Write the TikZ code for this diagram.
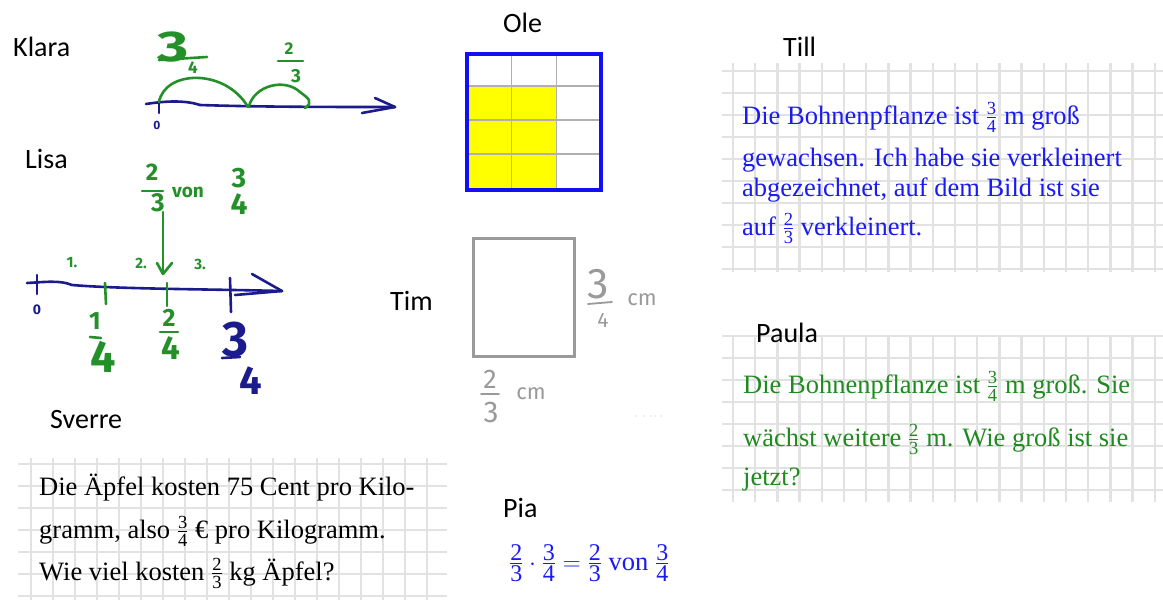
\documentclass[tikz,border=0pt]{standalone}
\usepackage{amsmath}
\usepackage{fontspec}
\setmainfont{Liberation Serif}
\newfontfamily\namefont{Carlito}
\newfontfamily\handfont{Fira Sans}
\usetikzlibrary{calc}
\definecolor{penblue}{HTML}{1B1B8E}
\definecolor{pengreen}{HTML}{24902A}
\definecolor{textblue}{HTML}{1A1AF2}
\definecolor{textgreen}{HTML}{1F8A1F}
\definecolor{gridgray}{HTML}{E2E2E2}
\definecolor{olegray}{HTML}{B0B0B0}
\definecolor{olefill}{HTML}{FFFF00}
\definecolor{olerim}{HTML}{1010F0}
\definecolor{timgray}{HTML}{9A9A9A}
\newcommand{\penfs}[1]{\fontsize{#1}{#1}\selectfont}
\newcommand{\tfr}[3][18.5]{\ensuremath{\frac{\hbox{\penfs{#1}#2}}{\hbox{\penfs{#1}#3}}}}
\tikzset{
    every node/.style={inner sep=0pt},
    kidname/.style={font=\namefont\penfs{28},anchor=base west},
    prose/.style={font=\fontsize{26.5}{30}\selectfont,anchor=base west},
    gridline/.style={draw=gridgray,line width=2.4pt},
    pen/.style={line width=2.6pt,line cap=round,line join=round},
    bluepen/.style={pen,draw=penblue},
    greenpen/.style={pen,draw=pengreen},
    graypen/.style={pen,draw=timgray,line width=1.8pt},
    greendigit/.style={text=pengreen,font=\handfont\bfseries\penfs{#1}},
    bluedigit/.style={text=penblue,font=\handfont\bfseries\penfs{#1}},
    graydigit/.style={text=timgray,font=\handfont\penfs{#1}},
    greendigit/.default=20, bluedigit/.default=20, graydigit/.default=20
}
\begin{document}
\begin{tikzpicture}[x=1pt,y=-1pt]
\fill[white] (0,0) rectangle (1163,600);
\useasboundingbox (0,0) rectangle (1163,600);
% squared paper behind the three texts
\foreach \k in {0,...,19} \draw[gridline] ({733+22.2*\k},63) -- ({733+22.2*\k},272);
\foreach \k in {0,...,9} \draw[gridline] (722,{71+22*\k}) -- (1163,{71+22*\k});
\foreach \k in {0,...,19} \draw[gridline] ({733+22.2*\k},335) -- ({733+22.2*\k},502);
\foreach \k in {0,...,7} \draw[gridline] (722,{336+22*\k}) -- (1163,{336+22*\k});
\foreach \k in {0,...,18} \draw[gridline] ({31+22*\k},458) -- ({31+22*\k},600);
\foreach \k in {0,...,6} \draw[gridline] (18,{464+22*\k}) -- (447,{464+22*\k});
% Klara
\node[kidname] (klara) at (13,56) {Klara};
\draw[bluepen] (146,104) .. controls (165,101) and (185,100) .. (200,105) .. controls (260,107) and (330,107) .. (395,107);
\draw[bluepen] (375,98) -- (395,107) -- (362,113);
\draw[bluepen] (159,100) -- (159,113);
\node[bluedigit=12] (klarazero) at (157,125) {0};
\draw[greenpen] (159,102) .. controls (165,70) and (225,68) .. (248,107);
\draw[greenpen] (249,106) .. controls (255,85) and (285,78) .. (300,92) .. controls (308,98) and (314,102) .. (305,108);
\node[greendigit=43,xscale=1.4,transform shape] (knum) at (173,47) {3};
\draw[greenpen] (159,60) -- (207,57);
\node[greendigit=17] (kden) at (193,68) {4};
\node[greendigit=17] (jnum) at (289,49) {2};
\draw[greenpen] (278,61) -- (303,61);
\node[greendigit=19] (jden) at (296,76) {3};
% Lisa
\node[kidname] (lisa) at (25,168) {Lisa};
\node[greendigit=24] (lnum) at (152,172) {2};
\draw[greenpen] (142,191) -- (163,191);
\node[greendigit=26] (lden) at (158,203) {3};
\node[greendigit=19] (lvon) at (188,192) {von};
\node[greendigit=28] (rnum) at (239,178) {3};
\node[greendigit=30] (rden) at (239,204) {4};
\draw[greenpen] (163,212) -- (163,273);
\draw[greenpen] (157,263) -- (163,274) -- (172,263);
\node[greendigit=15] (step1) at (72,263) {1.};
\node[greendigit=15] (step2) at (141,263) {2.};
\node[greendigit=15] (step3) at (200,264) {3.};
\draw[bluepen] (27,283) .. controls (45,282) and (60,280) .. (72,285) .. controls (120,289) and (200,289) .. (282,291);
\draw[bluepen] (252,274) -- (282,291) -- (235,295);
\draw[bluepen] (37,275) -- (37,294);
\draw[bluepen] (230,278) -- (231,312);
\node[bluedigit=14] (lisazero) at (37,310) {0};
\draw[greenpen] (105,283) -- (106,304);
\draw[greenpen] (167,283) -- (167,306);
\node[greendigit=25] (anum) at (95,321) {1};
\draw[greenpen] (90,337) -- (101,338);
\node[greendigit=45] (aden) at (103,357) {4};
\node[greendigit=25] (bnum) at (169,318) {2};
\draw[greenpen] (160,332) -- (178,332);
\node[greendigit=33] (bden) at (171,348) {4};
\node[bluedigit=50] (cnum) at (235,340) {3};
\draw[bluepen] (222,358) -- (240,357);
\node[bluedigit=40] (cden) at (251,381) {4};
% Ole
\node[kidname] (ole) at (503,32) {Ole};
\fill[olefill] (467,86) rectangle (557,190);
\foreach \x in {511.7,556.3} \draw[olegray,line width=1.2pt] (\x,54) -- (\x,190);
\foreach \y in {86,120,154} \draw[olegray,line width=1.2pt] (467,\y) -- (601,\y);
\draw[olerim,line width=3.5pt] (467,54) rectangle (601,190);
% Tim
\node[kidname] (tim) at (390,310) {Tim};
\draw[timgray,line width=3pt] (473,238) rectangle (574,356);
\node[graydigit=43] (tnum) at (598,284) {3};
\draw[graypen] (588,304) -- (612,302);
\node[graydigit=21] (tden) at (603,320) {4};
\node[graydigit=22] (tcm) at (642,300) {cm};
\node[graydigit=27] (unum) at (490,379) {2};
\draw[graypen] (481,394) -- (499,394);
\node[graydigit=30] (uden) at (491,412) {3};
\node[graydigit=22] (ucm) at (531,394) {cm};
\foreach \x in {636,644,651,655,661} \fill[timgray!60] (\x,416) circle (0.7);
% Till
\node[kidname] (till) at (783,56) {Till};
\node[prose,text=textblue] (till1) at (742,124) {Die Bohnenpflanze ist \tfr{3}{4} m groß};
\node[prose,text=textblue] (till2) at (742,166) {gewachsen. Ich habe sie verkleinert};
\node[prose,text=textblue] (till3) at (742,196) {abgezeichnet, auf dem Bild ist sie};
\node[prose,text=textblue] (till4) at (742,235) {auf \tfr{2}{3} verkleinert.};
% Paula
\node[kidname] (paula) at (756,342) {Paula};
\node[prose,text=textgreen] (paula1) at (743,393) {Die Bohnenpflanze ist \tfr{3}{4} m groß. Sie};
\node[prose,text=textgreen] (paula2) at (743,446) {wächst weitere \tfr{2}{3} m. Wie groß ist sie};
\node[prose,text=textgreen] (paula3) at (743,485) {jetzt?};
% Sverre
\node[kidname] (sverre) at (50,428) {Sverre};
\node[prose] (sverre1) at (39,495) {Die Äpfel kosten 75 Cent pro Kilo-};
\node[prose] (sverre2) at (39,538) {gramm, also \tfr{3}{4} € pro Kilogramm.};
\node[prose] (sverre3) at (39,580) {Wie viel kosten \tfr{2}{3} kg Äpfel?};
% Pia
\node[kidname] (pia) at (503,517) {Pia};
\node[prose,text=textblue] (piaeq) at (509,570) {$\tfr[24]{2}{3}\cdot\tfr[24]{3}{4}=\tfr[24]{2}{3}\ \text{von}\ \tfr[24]{3}{4}$};
\end{tikzpicture}
\end{document}
